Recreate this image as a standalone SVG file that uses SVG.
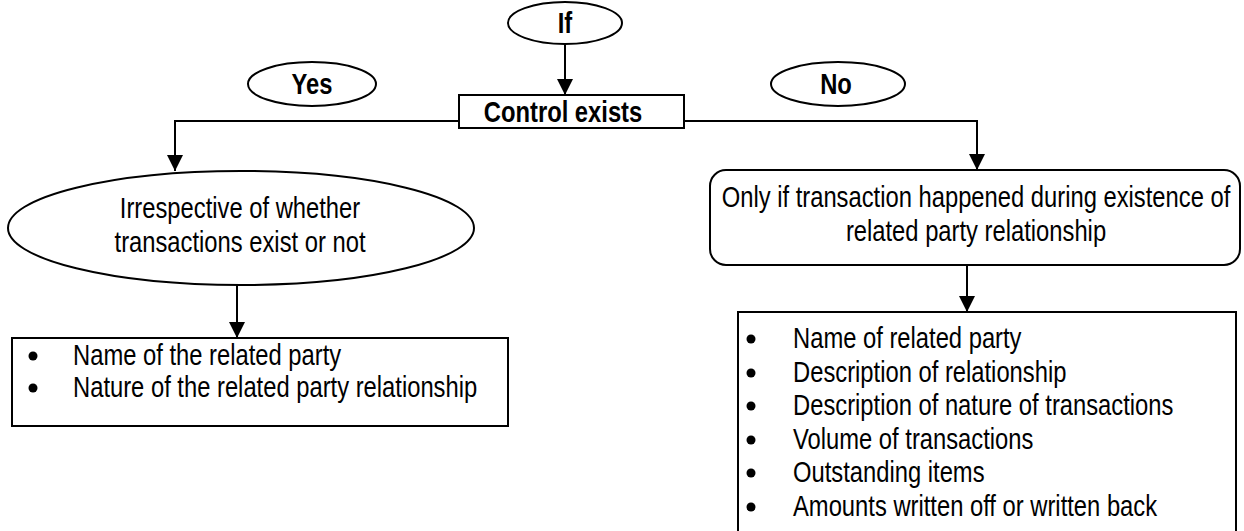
<svg xmlns="http://www.w3.org/2000/svg" width="1244" height="531" viewBox="0 0 1244 531">
<style>
.s{fill:#fff;stroke:#000;stroke-width:2}
.t{font-family:"Liberation Sans",Arial,sans-serif;font-size:29px;fill:#000}
.b{font-weight:bold}
.c{text-anchor:middle}
.ln{fill:none;stroke:#000;stroke-width:2}
</style>
<defs>
<marker id="ah" markerUnits="userSpaceOnUse" markerWidth="16" markerHeight="16" viewBox="0 0 16 16" refX="16" refY="8" orient="auto">
<path d="M0,0 L16,8 L0,16 Z" fill="#000"/>
</marker>
</defs>
<rect width="1244" height="531" fill="#fff"/>
<g id="connectors">
<line class="ln" x1="565" y1="44" x2="565" y2="95" marker-end="url(#ah)"/>
<polyline class="ln" points="459,121 175,121 175,171" marker-end="url(#ah)"/>
<polyline class="ln" points="684,121 977,121 977,170" marker-end="url(#ah)"/>
<line class="ln" x1="237" y1="285" x2="237" y2="338" marker-end="url(#ah)"/>
<line class="ln" x1="967" y1="265" x2="967" y2="312" marker-end="url(#ah)"/>
</g>
<g id="if">
<ellipse class="s" cx="565" cy="23" rx="57" ry="21"/>
<text class="t b c" transform="translate(565,33) scale(0.82,1)">If</text>
</g>
<g id="yes">
<ellipse class="s" cx="312" cy="84" rx="64" ry="22"/>
<text class="t b c" transform="translate(312,94) scale(0.82,1)">Yes</text>
</g>
<g id="no">
<ellipse class="s" cx="838" cy="84" rx="67" ry="22"/>
<text class="t b c" transform="translate(836,94) scale(0.82,1)">No</text>
</g>
<g id="control">
<rect class="s" x="459" y="95" width="225" height="33"/>
<text class="t b c" transform="translate(563,122) scale(0.82,1)">Control exists</text>
</g>
<g id="irrespective">
<ellipse class="s" cx="241" cy="228" rx="233" ry="57"/>
<text class="t c" transform="translate(240,218) scale(0.82,1)">Irrespective of whether</text>
<text class="t c" transform="translate(240,252) scale(0.82,1)">transactions exist or not</text>
</g>
<g id="onlyif">
<rect class="s" x="710" y="170" width="530" height="95" rx="16"/>
<text class="t c" transform="translate(976,207) scale(0.82,1)">Only if transaction happened during existence of</text>
<text class="t c" transform="translate(976,241) scale(0.82,1)">related party relationship</text>
</g>
<g id="leftlist">
<rect class="s" x="12" y="338" width="496" height="88"/>
<circle cx="33" cy="356" r="4.5"/>
<circle cx="33" cy="388" r="4.5"/>
<text class="t" transform="translate(73,365) scale(0.82,1)">Name of the related party</text>
<text class="t" transform="translate(73,397) scale(0.82,1)">Nature of the related party relationship</text>
</g>
<g id="rightlist">
<rect class="s" x="738" y="312" width="498" height="230"/>
<circle cx="751" cy="339" r="4.5"/>
<circle cx="751" cy="373" r="4.5"/>
<circle cx="751" cy="406" r="4.5"/>
<circle cx="751" cy="440" r="4.5"/>
<circle cx="751" cy="473" r="4.5"/>
<circle cx="751" cy="507" r="4.5"/>
<text class="t" transform="translate(793,348) scale(0.82,1)">Name of related party</text>
<text class="t" transform="translate(793,382) scale(0.82,1)">Description of relationship</text>
<text class="t" transform="translate(793,415) scale(0.82,1)">Description of nature of transactions</text>
<text class="t" transform="translate(793,449) scale(0.82,1)">Volume of transactions</text>
<text class="t" transform="translate(793,482) scale(0.82,1)">Outstanding items</text>
<text class="t" transform="translate(793,516) scale(0.82,1)">Amounts written off or written back</text>
</g>
</svg>
